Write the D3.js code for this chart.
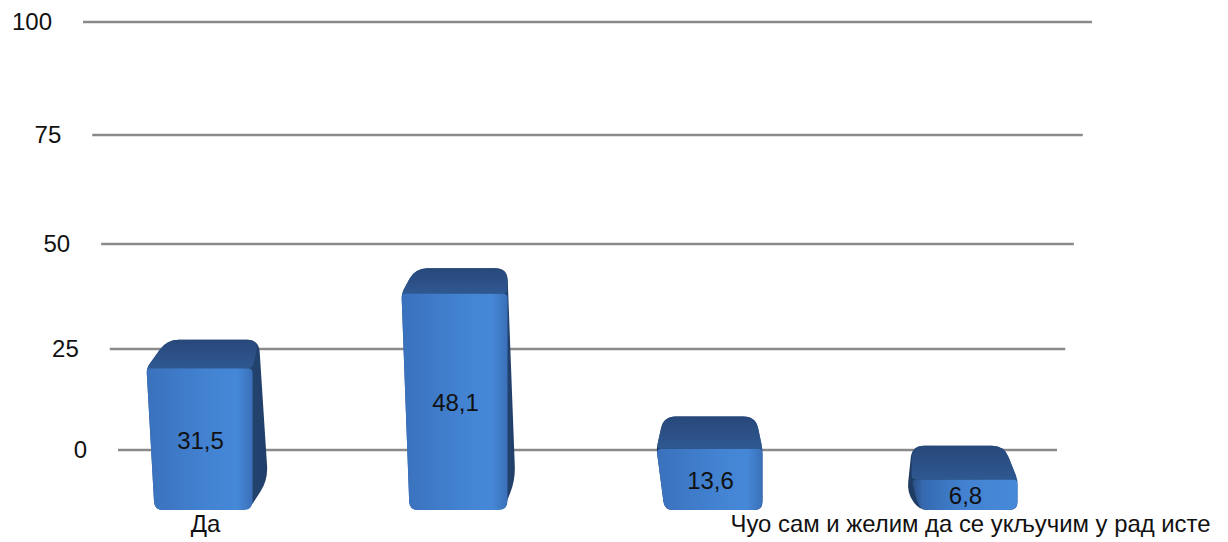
<!DOCTYPE html>
<html>
<head>
<meta charset="utf-8">
<script src="https://cdn.jsdelivr.net/npm/d3@7"></script>
<style>
  html, body { margin: 0; padding: 0; background: #ffffff; }
  svg { display: block; }
  text { font-family: "Liberation Sans", Arial, sans-serif; }
</style>
</head>
<body>
<svg id="chart" width="1228" height="542"></svg>
<script>
// ---- data ----
const categories = ["Да", "", "", "Чуо сам и желим да се укључим у рад исте"];
const values = [31.5, 48.1, 13.6, 6.8];
const valueLabels = ["31,5", "48,1", "13,6", "6,8"];
const yTicks = [0, 25, 50, 75, 100];

// ---- layout ----
const svg = d3.select("#chart");

// back-wall gridline scale (perspective: spacing shrinks toward the bottom)
const yGrid = d3.scaleLinear().domain([0, 25, 50, 75, 100]).range([450, 349, 244, 135, 22]);
const gridLeft = d3.scaleLinear().domain([22, 450]).range([83, 118]);
const gridRight = d3.scaleLinear().domain([22, 450]).range([1092, 1057]);

// bars stand in front of the wall
const x = d3.scaleBand().domain(d3.range(categories.length)).range([72, 1092]).paddingInner(0.59).paddingOuter(0.295);
const yBar = d3.scaleLinear().domain([0, 50]).range([510, 285]);
const floorY = yBar(0);
const vp = 715;

// gradients
const defs = svg.append("defs");
function grad(id, stops, x1, x2, y1, y2) {
  const g = defs.append("linearGradient").attr("id", id)
    .attr("x1", x1).attr("x2", x2).attr("y1", y1).attr("y2", y2);
  stops.forEach(s => g.append("stop").attr("offset", s[0]).attr("stop-color", s[1]));
}
grad("frontR", [[0, "#3a71bc"], [0.55, "#4282d1"], [0.85, "#4688d8"], [1, "#3a70b8"]], "0", "1", "0", "0");
grad("frontL", [[0, "#2a4f82"], [0.1, "#3569b0"], [0.5, "#4282d1"], [1, "#4789d9"]], "0", "1", "0", "0");
grad("side", [[0, "#2f5d9a"], [1, "#213f69"]], "0", "1", "0", "0");
grad("sideL", [[0, "#1e3b62"], [1, "#2b5690"]], "0", "1", "0", "0");
grad("topF", [[0, "#28487a"], [1, "#2f5891"]], "0", "0", "0", "1");
grad("hl", [[0, "#4a88d4"], [0.3, "#68a6ee"], [0.7, "#74b2f6"], [1, "#4a88d4"]], "0", "1", "0", "0");
const blur = defs.append("filter").attr("id", "soft").attr("x", "-10%").attr("y", "-100%").attr("width", "120%").attr("height", "300%");
blur.append("feGaussianBlur").attr("stdDeviation", 1.4);

// rounded polygon path, one radius per vertex
function roundedPath(pts, radii) {
  const n = pts.length;
  let d = "";
  for (let i = 0; i < n; i++) {
    const r = Array.isArray(radii) ? radii[i] : radii;
    const p0 = pts[(i - 1 + n) % n], p1 = pts[i], p2 = pts[(i + 1) % n];
    const l1 = Math.hypot(p1[0] - p0[0], p1[1] - p0[1]) || 1;
    const l2 = Math.hypot(p2[0] - p1[0], p2[1] - p1[1]) || 1;
    const r1 = Math.min(r, l1 / 2), r2 = Math.min(r, l2 / 2);
    const a = [p1[0] + (p0[0] - p1[0]) * r1 / l1, p1[1] + (p0[1] - p1[1]) * r1 / l1];
    const b = [p1[0] + (p2[0] - p1[0]) * r2 / l2, p1[1] + (p2[1] - p1[1]) * r2 / l2];
    d += (i === 0 ? "M" : "L") + a[0] + "," + a[1] + "Q" + p1[0] + "," + p1[1] + " " + b[0] + "," + b[1];
  }
  return d + "Z";
}

// ---- gridlines ----
const grid = svg.append("g");
yTicks.forEach(t => {
  const yy = yGrid(t);
  grid.append("line")
    .attr("x1", gridLeft(yy)).attr("x2", gridRight(yy))
    .attr("y1", yy).attr("y2", yy)
    .attr("stroke", "#8a8a8a").attr("stroke-width", 2.5);
  grid.append("text")
    .attr("x", gridLeft(yy) - 31).attr("y", yy + 2)
    .attr("text-anchor", "end").attr("dominant-baseline", "middle")
    .attr("font-size", 24).attr("fill", "#111")
    .text(t);
});

// ---- bars ----
const bars = svg.append("g");
values.forEach((v, i) => {
  const cx = x(i) + x.bandwidth() / 2;
  const yT = yBar(v);
  const yB = floorY;
  const d = 12 + 0.045 * yT;           // visible depth of top face
  const s = (vp - cx) * 0.026;         // shift of back edge toward vanishing point
  const sw = (vp - cx) * 0.03;         // visible side width
  const fl_t = [cx - 53, yT], fr_t = [cx + 53, yT];
  const fl_b = [cx - 45, yB], fr_b = [cx + 53, yB];
  const bl = [cx - 46 + s, yT - d], br = [cx + 46 + s, yT - d];
  const g = bars.append("g");

  // side face / silhouette behind
  if (sw > 3) {
    g.append("path")
      .attr("d", roundedPath([fl_t, bl, br, [fr_b[0] + sw, yB - 30], [fr_b[0] - 4, yB], fl_b], [4, 12, 12, 14, 8, 8]))
      .attr("fill", "url(#side)");
  } else if (sw < -3) {
    g.append("path")
      .attr("d", roundedPath([bl, br, fr_t, fr_b, fl_b, [fl_t[0] + sw * 0.6, yT + Math.min(22, (yB - yT) * 0.45)]], [12, 12, 4, 8, 8, 12]))
      .attr("fill", "url(#sideL)");
  } else {
    g.append("path")
      .attr("d", roundedPath([fl_t, bl, br, fr_t, fr_b, fl_b], [4, 12, 12, 4, 8, 8]))
      .attr("fill", "url(#sideL)");
  }
  // front face
  g.append("path")
    .attr("d", roundedPath([fl_t, fr_t, fr_b, fl_b], [5, 5, 9, 9]))
    .attr("fill", sw >= 0 ? "url(#frontR)" : "url(#frontL)");
  // top face
  g.append("path")
    .attr("d", roundedPath([fl_t, bl, br, fr_t], [5, 12, 12, 5]))
    .attr("fill", "url(#topF)");
  // highlight along the front-top edge
  g.append("line")
    .attr("x1", fl_t[0] + 5).attr("x2", fr_t[0] - 5)
    .attr("y1", yT + 2.5).attr("y2", yT + 2.5)
    .attr("stroke", "url(#hl)").attr("stroke-width", 4.5)
    .attr("filter", "url(#soft)");
  // value label
  g.append("text")
    .attr("x", cx + 1).attr("y", (yT + yB) / 2 + 1)
    .attr("text-anchor", "middle").attr("dominant-baseline", "central")
    .attr("font-size", 24).attr("fill", "#111")
    .text(valueLabels[i]);
});

// ---- category labels ----
const cat = svg.append("g");
categories.forEach((c, i) => {
  if (!c) return;
  const cx = x(i) + x.bandwidth() / 2 + 6;
  const t = cat.append("text")
    .attr("x", cx).attr("y", 532)
    .attr("text-anchor", "middle")
    .attr("font-size", 24).attr("fill", "#111")
    .text(c);
  const len = t.node().getComputedTextLength();
  if (c.length > 10 && len > 480) {
    t.attr("textLength", 480).attr("lengthAdjust", "spacingAndGlyphs");
  }
});
</script>
</body>
</html>
